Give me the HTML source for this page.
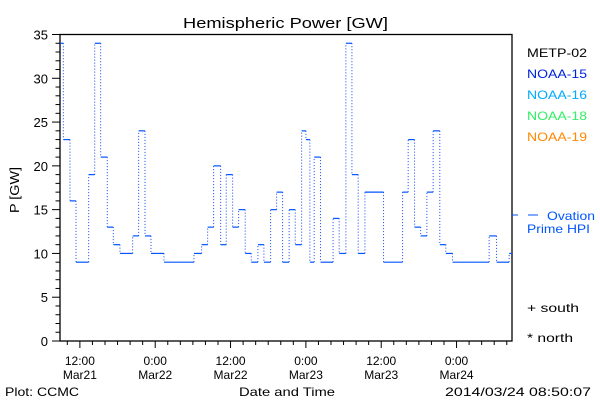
<!DOCTYPE html>
<html><head><meta charset="utf-8"><style>
html,body{margin:0;padding:0;background:#fff;}
svg{display:block;font-family:"Liberation Sans",sans-serif;}
</style></head><body>
<svg id="chart" width="600" height="400" viewBox="0 0 600 400" xmlns="http://www.w3.org/2000/svg">
<rect width="600" height="400" fill="#fff"/>
<text x="183" y="28" font-size="15" textLength="205" lengthAdjust="spacingAndGlyphs">Hemispheric Power [GW]</text>
<text transform="translate(19,190) rotate(-90)" text-anchor="middle" font-size="13" textLength="46" lengthAdjust="spacingAndGlyphs">P [GW]</text>
<g id="axes"></g>
<g id="series"></g>
<text x="527" y="57" font-size="12" fill="#000" textLength="60" lengthAdjust="spacingAndGlyphs">METP-02</text>
<text x="527" y="78" font-size="12" fill="#0022dd" textLength="60" lengthAdjust="spacingAndGlyphs">NOAA-15</text>
<text x="527" y="99" font-size="12" fill="#00aaff" textLength="60" lengthAdjust="spacingAndGlyphs">NOAA-16</text>
<text x="527" y="120" font-size="12" fill="#33ee66" textLength="60" lengthAdjust="spacingAndGlyphs">NOAA-18</text>
<text x="527" y="141" font-size="12" fill="#ff8800" textLength="60" lengthAdjust="spacingAndGlyphs">NOAA-19</text>
<g>
<line x1="512" y1="215" x2="518" y2="215" stroke="#0055ff" stroke-width="1"/>
<line x1="528" y1="215" x2="538" y2="215" stroke="#0055ff" stroke-width="1"/>
<text x="547" y="220" font-size="12" fill="#0055ff" textLength="48" lengthAdjust="spacingAndGlyphs">Ovation</text>
<text x="527" y="233" font-size="12" fill="#0055ff" textLength="63" lengthAdjust="spacingAndGlyphs">Prime HPI</text>
</g>
<text x="527" y="312" font-size="12" textLength="52" lengthAdjust="spacingAndGlyphs">+ south</text>
<text x="527" y="342" font-size="12" textLength="46" lengthAdjust="spacingAndGlyphs">* north</text>
<text x="287" y="396" font-size="12" text-anchor="middle" textLength="96" lengthAdjust="spacingAndGlyphs">Date and Time</text>
<text x="5" y="396" font-size="12" textLength="74" lengthAdjust="spacingAndGlyphs">Plot: CCMC</text>
<text x="445" y="396" font-size="12" textLength="146" lengthAdjust="spacingAndGlyphs">2014/03/24 08:50:07</text>
</svg>
<script>
// hours since 08:50 Mar21 where each step starts
const stepStarts = [0,0.53,1.59,2.55,4.57,5.53,6.48,7.53,8.49,9.55,11.58,12.53,13.54,14.49,16.56,21.34,22.56,23.52,24.47,25.59,26.48,27.5,28.45,29.5,30.46,31.53,32.48,33.55,34.5,35.46,36.5,37.47,38.49,39.17,39.8,40.49,41.5,43.5,44.47,45.54,46.5,47.5,48.57,51.54,54.57,55.46,56.48,57.44,58.44,59.44,60.5,61.46,62.53,68.36,69.54,71.54];
const powerValues = [34,23,16,9,19,34,21,13,11,10,12,24,12,10,9,10,11,13,20,11,19,13,15,10,9,11,9,15,17,9,15,11,24,23,9,21,9,14,10,34,19,10,17,9,17,23,13,12,17,24,11,10,9,12,9,10];
const endHour = 72;
const yTicks = [0,5,10,15,20,25,30,35];
const xTickHours = [3.1667,15.1667,27.1667,39.1667,51.1667,63.1667];
const xTickTimes = ["12:00","0:00","12:00","0:00","12:00","0:00"];
const xTickDates = ["Mar21","Mar22","Mar22","Mar23","Mar23","Mar24"];

const L=60,R=512,T=34.5,B=341;
const xs=h=>L+(h/72)*(R-L);
const ys=v=>B-(v/35)*(B-T);
const NS="http://www.w3.org/2000/svg";
function mk(tag,attrs,parent){const e=document.createElementNS(NS,tag);for(const k in attrs)e.setAttribute(k,attrs[k]);parent.appendChild(e);return e;}
const axes=document.getElementById('axes');
const frame=mk('rect',{x:L,y:T,width:R-L,height:B-T,fill:'none',stroke:'#000','stroke-width':1.3},axes);


for(let v=0;v<=35;v++){
  const y=ys(v);const major=v%5===0;
  const t=mk('line',{x1:major?52:55.5,x2:L,y1:y,y2:y,stroke:'#000','stroke-width':1},axes);
  
  
}
yTicks.forEach(v=>{
  const t=mk('text',{x:48,y:ys(v)+5,'font-size':13,'text-anchor':'end'},axes);
  t.textContent=String(v);
  
  
});
for(let h=xTickHours[0]-2;h<=72;h+=2){
  if(h<0)continue;
  const x=xs(h);const major=xTickHours.some(m=>Math.abs(m-h)<0.01);
  const t=mk('line',{x1:x,x2:x,y1:B,y2:major?348:345,stroke:'#000','stroke-width':1},axes);
  
  
}
xTickHours.forEach((h,i)=>{
  const x=xs(h);
  const a=mk('text',{x:x,y:365,'font-size':12,'text-anchor':'middle'},axes);
  a.textContent=xTickTimes[i];
  
  
  const b=mk('text',{x:x,y:379,'font-size':12,'text-anchor':'middle'},axes);
  b.textContent=xTickDates[i];
  
  
});
const ser=document.getElementById('series');


for(let i=0;i<powerValues.length;i++){
  const x1=xs(stepStarts[i]);const x2=xs(i+1<stepStarts.length?stepStarts[i+1]:endHour);
  const y=ys(powerValues[i]);
  const h=mk('line',{x1:x1,x2:x2,y1:y,y2:y,stroke:'#0055ff','stroke-width':1.2},ser);
  
  
  if(i+1<powerValues.length){
    const y2=ys(powerValues[i+1]);
    const v=mk('line',{x1:x2,x2:x2,y1:y,y2:y2,stroke:'#1144ee','stroke-width':1,'stroke-dasharray':'1,2'},ser);
    
    
  }
}
</script>
</body></html>
